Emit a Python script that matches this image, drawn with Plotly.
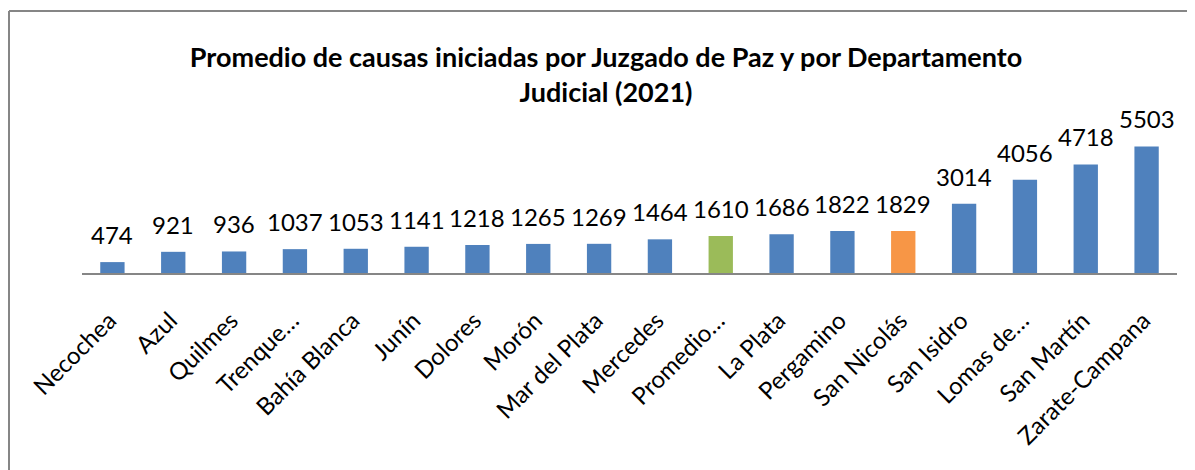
import plotly.graph_objects as go

categories = ["Necochea", "Azul", "Quilmes", "Trenque…", "Bahía Blanca", "Junín", "Dolores",
              "Morón", "Mar del Plata", "Mercedes", "Promedio…", "La Plata", "Pergamino",
              "San Nicolás", "San Isidro", "Lomas de…", "San Martín", "Zarate-Campana"]
values = [474, 921, 936, 1037, 1053, 1141, 1218, 1265, 1269, 1464, 1610, 1686, 1822, 1829,
          3014, 4056, 4718, 5503]
highlight = {"Promedio…": "#9BBB59", "San Nicolás": "#F79646"}
base_color = "#4F81BD"
colors = [highlight.get(c, base_color) for c in categories]

# page offset of the figure (default body margin)
OFF = 8
W, H = 1195 - OFF, 470 - OFF
ML, MR, MT = 82 - OFF, 18, 135 - OFF
BASE = 273 - OFF
MB = H - BASE
PW, PH = W - ML - MR, H - MT - MB

def px_x(px):
    return (px - OFF - ML) / PW

def px_y(py):
    return (BASE - (py - OFF)) / PH

FONT = "Lato"

fig = go.Figure(go.Bar(
    x=categories, y=values, marker=dict(color=colors, line=dict(width=0)),
    hoverinfo="x+y",
))

for c, v in zip(categories, values):
    fig.add_annotation(x=c, y=v, text=str(v), showarrow=False, yanchor="bottom",
                       yshift=11, font=dict(family=FONT, size=24, color="#000000"))

fig.update_layout(
    width=W, height=H,
    margin=dict(l=ML, r=MR, t=MT, b=MB, autoexpand=False),
    paper_bgcolor="white", plot_bgcolor="white",
    bargap=0.6,
    showlegend=False,
    title=dict(
        text="<b>Promedio de causas iniciadas por Juzgado de Paz y por Departamento<br>Judicial (2021)</b>",
        x=(606 - OFF) / W, xanchor="center", xref="container",
        y=1 - (66.5 - OFF) / H, yanchor="middle", yref="container",
        font=dict(family=FONT, size=27, color="#000000"),
    ),
    xaxis=dict(
        showline=True, linecolor="#868686", linewidth=2, ticks="",
        tickangle=-45, tickfont=dict(family=FONT, size=24, color="#000000"),
        ticklabelstandoff=22, ticklabelshift=-3, automargin=False, showgrid=False,
    ),
    yaxis=dict(range=[0, 6000], visible=False, showgrid=False, automargin=False),
    shapes=[
        dict(type="line", xref="paper", yref="paper", x0=px_x(9), x1=px_x(1194),
             y0=px_y(11), y1=px_y(11), line=dict(color="#868686", width=2)),
        dict(type="line", xref="paper", yref="paper", x0=px_x(9), x1=px_x(9),
             y0=px_y(11), y1=px_y(480), line=dict(color="#868686", width=2)),
    ],
)

fig.write_html("out.html")
